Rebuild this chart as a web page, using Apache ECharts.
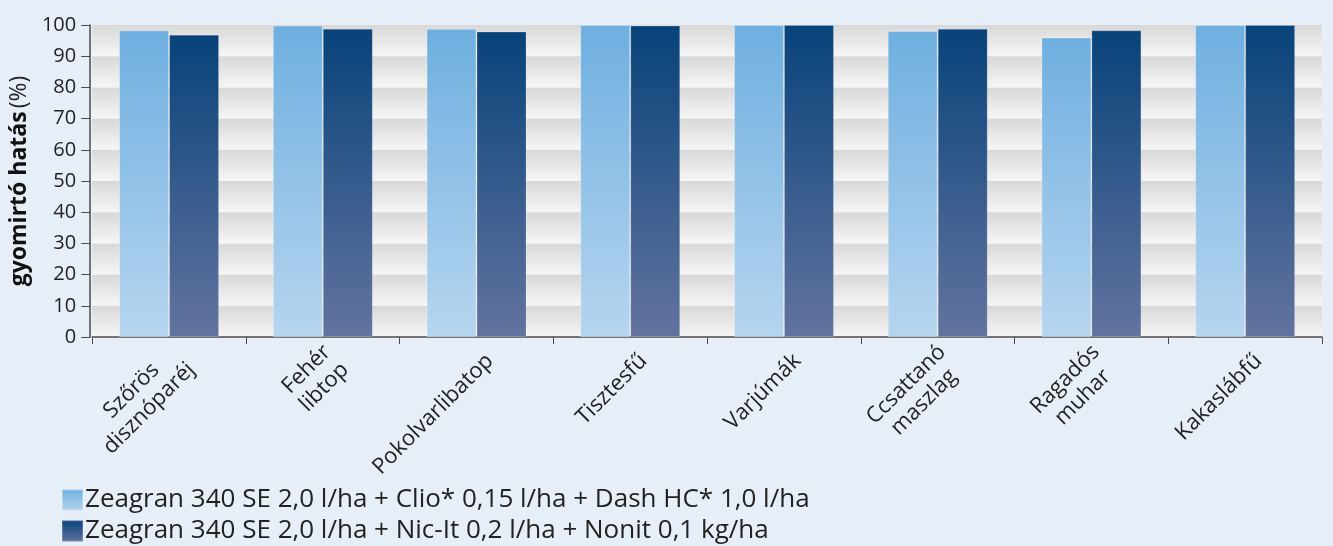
<!DOCTYPE html>
<html>
<head>
<meta charset="utf-8">
<script src="https://cdn.jsdelivr.net/npm/echarts@6/dist/echarts.min.js"></script>
<style>
  html, body { margin: 0; padding: 0; background: #e6eef8; }
  #chart { width: 1333px; height: 546px; }
</style>
</head>
<body>
<div id="chart"></div>
<script>
const categories = ['Szőrös\ndisznóparéj', 'Fehér\nlibtop', 'Pokolvarlibatop', 'Tisztesfű', 'Varjúmák', 'Ccsattanó\nmaszlag', 'Ragadós\nmuhar', 'Kakaslábfű']
const seriesNames = [
  'Zeagran 340 SE 2,0 l/ha + Clio* 0,15 l/ha + Dash HC* 1,0 l/ha',
  'Zeagran 340 SE 2,0 l/ha + Nic-It 0,2 l/ha + Nonit 0,1 kg/ha'
]
const clioValues = [98.3, 99.8, 98.8, 100, 100, 98.1, 96.0, 100]
const nicItValues = [96.9, 98.8, 97.9, 99.8, 100, 98.8, 98.3, 100]
const yTicks = [0, 10, 20, 30, 40, 50, 60, 70, 80, 90, 100]

const font = '"Open Sans", Lato, sans-serif'

const chart = echarts.init(document.getElementById('chart'))

const lightFill = new echarts.graphic.LinearGradient(0, 0, 0, 1, [
  { offset: 0, color: '#6eafe0' },
  { offset: 1, color: '#b6d5ef' }
])
const darkFill = new echarts.graphic.LinearGradient(0, 0, 0, 1, [
  { offset: 0, color: '#07437a' },
  { offset: 1, color: '#63739f' }
])
const bandFill = new echarts.graphic.LinearGradient(0, 0, 0, 1, [
  { offset: 0, color: '#d8d8d8' },
  { offset: 1, color: '#f6f6f6' }
])

// one legend per row, so the two entries stack at the bottom left
const legendRow = (name, top) => ({
  left: 61,
  top: top,
  padding: 0,
  itemWidth: 21,
  itemHeight: 21,
  icon: 'rect',
  data: [name],
  textStyle: { fontSize: 26, color: '#222', padding: [0, 0, 0, -3] }
})

chart.setOption({
  backgroundColor: '#e6eef8',
  animation: false,
  textStyle: { fontFamily: font },
  grid: {
    left: 88,
    right: 11,
    top: 25,
    bottom: 209
  },
  legend: [legendRow(seriesNames[0], 487), legendRow(seriesNames[1], 518)],
  xAxis: {
    type: 'category',
    data: categories,
    axisLine: { lineStyle: { color: '#4a4a4a', width: 1.5 } },
    axisTick: { show: true, length: 7, lineStyle: { color: '#4a4a4a' } },
    axisLabel: {
      rotate: 45,
      interval: 0,
      margin: 7,
      padding: [38, 0, 0, 0],
      color: '#222',
      // lines centred on each other, block anchored at its right end
      formatter: (v) => v.split('\n').map(s => '{c|' + s + '}').join('\n'),
      rich: {
        c: { fontSize: 22, lineHeight: 25, align: 'center', color: '#222', fontFamily: font }
      }
    }
  },
  yAxis: {
    type: 'value',
    min: yTicks[0],
    max: yTicks[yTicks.length - 1],
    interval: 10,
    offset: 2,
    name: '{b|gyomirtó hatás} {n|(%)}',
    nameLocation: 'middle',
    nameGap: 52,
    nameRotate: 90,
    nameTextStyle: {
      rich: {
        b: { fontSize: 23, fontWeight: 'bold', color: '#111', fontFamily: font },
        n: { fontSize: 23, color: '#222', fontFamily: font }
      }
    },
    axisLine: { show: true, lineStyle: { color: '#4a4a4a', width: 1.5 } },
    axisTick: { show: true, length: 9, lineStyle: { color: '#4a4a4a' } },
    axisLabel: { fontSize: 20, color: '#222', margin: 14 },
    splitLine: { show: false },
    splitArea: { show: true, areaStyle: { color: [bandFill] } }
  },
  series: [{
    name: seriesNames[0],
    type: 'bar',
    barWidth: 50,
    barGap: '0%',
    itemStyle: { color: lightFill, borderColor: 'rgba(255,255,255,0.3)', borderWidth: 1 },
    data: clioValues
  }, {
    name: seriesNames[1],
    type: 'bar',
    barWidth: 50,
    barGap: '0%',
    itemStyle: { color: darkFill, borderColor: 'rgba(255,255,255,0.2)', borderWidth: 1 },
    data: nicItValues
  }]
})
</script>
</body>
</html>
